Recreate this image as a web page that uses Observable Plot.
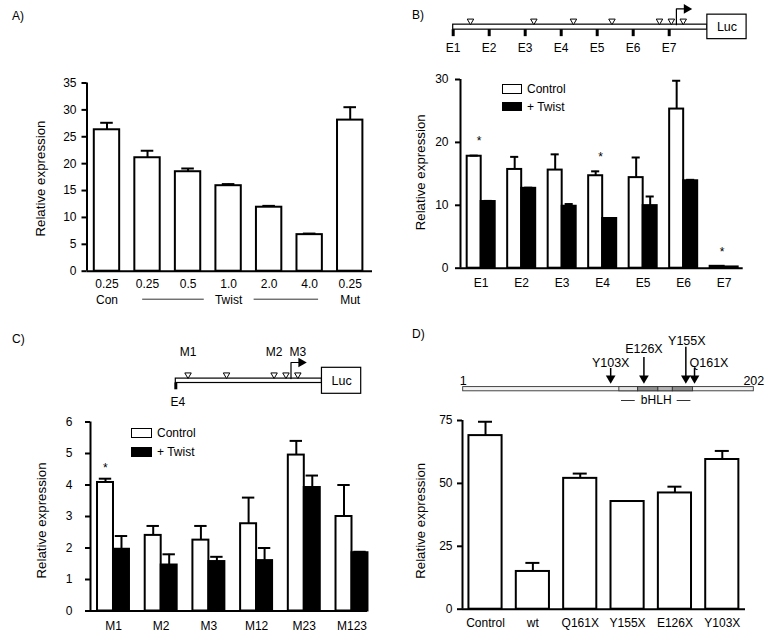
<!DOCTYPE html>
<html><head><meta charset="utf-8">
<script src="https://cdn.jsdelivr.net/npm/d3@7"></script>
<script src="https://cdn.jsdelivr.net/npm/@observablehq/plot@0.6"></script>
<style>
body{margin:0;background:#fff;}
#fig{position:relative;width:774px;height:638px;font-family:"Liberation Sans",Arial,Helvetica,sans-serif;color:#000;overflow:hidden;}
#fig svg{position:absolute;}
.lab{position:absolute;font-size:12px;line-height:12px;white-space:nowrap;}
.box{position:absolute;box-sizing:border-box;border:1.5px solid #000;}
</style></head><body><div id="fig"></div>
<script>
const FONT = '"Liberation Sans", Arial, Helvetica, sans-serif';

// ---------- Panel A data ----------
const aDose = ["0.25", "0.25", "0.5", "1.0", "2.0", "4.0", "0.25"];
const aMean = [26.3, 21.1, 18.5, 15.9, 11.9, 6.8, 28.1];
const aSem  = [1.3, 1.3, 0.6, 0.3, 0.25, 0.2, 2.4];
const aGroups = ["Con", "Twist", "Mut"];
const aGroupFirst = [0, 1, 6];
const aGroupLast  = [0, 5, 6];
const aTicks = [0, 5, 10, 15, 20, 25, 30, 35];

// ---------- Panel B data ----------
const bCats = ["E1", "E2", "E3", "E4", "E5", "E6", "E7"];
const bControl    = [17.8, 15.7, 15.6, 14.7, 14.4, 25.3, 0.3];
const bControlSem = [0.1, 2.0, 2.5, 0.7, 3.2, 4.5, 0.05];
const bTwist      = [10.6, 12.7, 9.85, 7.9, 9.95, 13.9, 0.2];
const bTwistSem   = [0.1, 0.1, 0.35, 0.05, 1.45, 0.15, 0];
const bSig = ["E1", "E4", "E7"];
const bTicks = [0, 10, 20, 30];
const series = ["Control", "+ Twist"];
// promoter map (E sites / E-boxes, arbitrary map units)
const eSitePos = [0, 1, 2, 3, 4, 5, 6];
const eBoxPos  = [0.48, 2.24, 3.34, 4.41, 5.73, 6.06, 6.39];
const tssPos = 6.2, promoterEnd = 7.06, lucEnd = 8.15;

// ---------- Panel C data ----------
const cCats = ["M1", "M2", "M3", "M12", "M23", "M123"];
const cControl    = [4.08, 2.4, 2.25, 2.77, 4.95, 3.0];
const cControlSem = [0.12, 0.3, 0.45, 0.83, 0.45, 1.0];
const cTwist      = [1.96, 1.46, 1.57, 1.6, 3.92, 1.85];
const cTwistSem   = [0.42, 0.34, 0.15, 0.4, 0.38, 0.03];
const cSig = ["M1"];
const cTicks = [0, 1, 2, 3, 4, 5, 6];
const mutBoxNames = ["M1", "M2", "M3"];
const mutBoxPos = [3.34, 5.73, 6.39];

// ---------- Panel D data ----------
const dCats = ["Control", "wt", "Q161X", "Y155X", "E126X", "Y103X"];
const dMean = [69.0, 15.0, 52.0, 42.8, 46.2, 59.5];
const dSem  = [5.5, 3.4, 1.9, 0, 2.5, 3.4];
const dTicks = [0, 25, 50, 75];
const twistLength = 202;
const mutNames = ["Y103X", "E126X", "Y155X", "Q161X"];
const mutResidue = [103, 126, 155, 161];
const domStart = [109, 122, 136, 146];
const domEnd   = [122, 136, 146, 160];
const bhlhRange = [109, 160];

// ---------- layout / style ----------
const fig = document.getElementById("fig");
const baseStyle = {fontFamily: FONT, fontSize: "12px", background: "none", overflow: "visible", color: "black"};
function place(el, left, top) { el.style.left = left + "px"; el.style.top = top + "px"; fig.appendChild(el); }
function label(text, left, cy, size) {
  const d = document.createElement("div"); d.className = "lab"; d.textContent = text;
  d.style.left = left + "px"; d.style.top = (cy - 6) + "px"; if (size) d.style.fontSize = size + "px";
  fig.appendChild(d); return d;
}
function box(left, top, w, h, fill) {
  const d = document.createElement("div"); d.className = "box";
  Object.assign(d.style, {left: left + "px", top: top + "px", width: w + "px", height: h + "px", background: fill});
  fig.appendChild(d);
}
function yAxis(ticks, x0, ymax, pad, title, tdx, tdy) {
  return [
    Plot.axisY({ticks, tickFormat: d => String(d), tickSize: 5, tickPadding: pad, strokeWidth: 2, label: null, fontSize: 12}),
    Plot.ruleX([x0], {y1: 0, y2: ymax, strokeWidth: 2}),
    Plot.ruleY([0], {strokeWidth: 2}),
    Plot.text([title], {frameAnchor: "left", textAnchor: "middle", rotate: -90, dx: tdx, dy: tdy, fontSize: 13.3, lineAnchor: "middle"})
  ];
}
function xAxis(cats, pad) {
  return Plot.axisX({ticks: cats.map((d, i) => i), tickFormat: i => cats[i], tickSize: 0, tickPadding: pad, label: null, fontSize: 12});
}

// ---------- Panel A ----------
{
  const data = aDose.map((d, i) => ({i, v: aMean[i], e: aSem[i]}));
  const hw = 0.313, cap = 0.155;
  const spans = aGroups.map((g, k) => ({g, a: aGroupFirst[k], b: aGroupLast[k], m: (aGroupFirst[k] + aGroupLast[k]) / 2}));
  const wide = spans.filter(s => s.b > s.a);
  const p = Plot.plot({
    width: 380, height: 250, marginLeft: 86.5, marginRight: 8, marginTop: 22.5, marginBottom: 39.3,
    style: baseStyle,
    x: {domain: [-0.493, 6.55]}, y: {domain: [0, 35]},
    marks: [
      Plot.rect(data, {x1: d => d.i - hw, x2: d => d.i + hw, y1: 0, y2: "v", fill: "white", stroke: "black", strokeWidth: 2}),
      Plot.ruleX(data, {x: "i", y1: "v", y2: d => d.v + d.e, strokeWidth: 2}),
      Plot.ruleY(data, {y: d => d.v + d.e, x1: d => d.i - cap, x2: d => d.i + cap, strokeWidth: 2}),
      ...yAxis(aTicks, -0.493, 35, 5.5, "Relative expression", -45.8, 1.5),
      xAxis(aDose, 8),
      Plot.text(spans, {x: "m", y: 0, dy: 28.5, text: "g", fontSize: 12, lineAnchor: "middle"}),
      Plot.ruleY(wide, {y: 0, dy: 28, x1: s => s.a - 0.12, x2: s => s.m - 0.6, strokeWidth: 1, stroke: "#333"}),
      Plot.ruleY(wide, {y: 0, dy: 28, x1: s => s.m + 0.63, x2: s => s.b + 0.22, strokeWidth: 1, stroke: "#333"})
    ]
  });
  place(p, 0, 60);
  label("A)", 12, 16);
}

// grouped-bar helper
function grouped(cats, ctrl, ctrlSem, tw, twSem) {
  return cats.flatMap((c, i) => [
    {i, c, s: series[0], v: ctrl[i], e: ctrlSem[i]},
    {i, c, s: series[1], v: tw[i], e: twSem[i]}
  ]);
}
function groupedMarks(data, w, cap) {
  const cx = d => d.s === series[0] ? d.i - w / 2 : d.i + w / 2;
  const err = data.filter(d => d.e > 0);
  return [
    Plot.rect(data, {x1: d => d.s === series[0] ? d.i - w : d.i, x2: d => d.s === series[0] ? d.i : d.i + w,
      y1: 0, y2: "v", fill: "s", stroke: "black", strokeWidth: 2}),
    Plot.ruleX(err, {x: cx, y1: "v", y2: d => d.v + d.e, strokeWidth: 2}),
    Plot.ruleY(err, {y: d => d.v + d.e, x1: d => cx(d) - cap, x2: d => cx(d) + cap, strokeWidth: 2})
  ];
}
function sigRows(data, sig) {
  return sig.map(c => {
    const rows = data.filter(d => d.c === c);
    return {i: rows[0].i, top: d3.max(rows, d => d.v + d.e)};
  });
}

// ---------- Panel B ----------
{
  const data = grouped(bCats, bControl, bControlSem, bTwist, bTwistSem);
  const p = Plot.plot({
    width: 394, height: 255, marginLeft: 80, marginRight: 31.3, marginTop: 24, marginBottom: 42.3,
    style: baseStyle,
    x: {domain: [-0.511, 6.47]}, y: {domain: [0, 30]},
    color: {domain: series, range: ["white", "black"]},
    marks: [
      ...groupedMarks(data, 0.346, 0.1),
      ...yAxis(bTicks, -0.511, 30, 7, "Relative expression", -40, -1.5),
      xAxis(bCats, 10),
      Plot.text(sigRows(data, bSig), {x: d => d.i - 0.05, y: "top", dy: -14, text: () => "*", fontSize: 12, lineAnchor: "middle"})
    ]
  });
  place(p, 380, 55);
  // promoter map
  const m = Plot.plot({
    width: 394, height: 60, marginLeft: 72.7, marginRight: 26.1, marginTop: 0, marginBottom: 0,
    style: baseStyle,
    x: {domain: [0, 8.2], axis: null}, y: {domain: [-26.65, 33.35], range: [0, 60], axis: null},
    marks: [
      Plot.rect([0], {x1: 0, x2: promoterEnd, y1: -2.5, y2: 2.5, fill: "white", stroke: "black", strokeWidth: 1.2}),
      Plot.rect([0], {x1: promoterEnd, x2: lucEnd, y1: -12.5, y2: 12, fill: "white", stroke: "black", strokeWidth: 1.2}),
      Plot.text(["Luc"], {x: (promoterEnd + lucEnd) / 2, y: -0.5, fontSize: 12.5, lineAnchor: "middle"}),
      Plot.ruleX(eSitePos, {x: d => d, y1: 2.5, y2: 9.5, strokeWidth: 3}),
      Plot.text(bCats, {x: (d, i) => eSitePos[i], y: 21, fontSize: 12, lineAnchor: "middle"}),
      Plot.dot(eBoxPos, {x: d => d, y: -6.2, symbol: "triangle", r: 2.4, rotate: 180, fill: "white", stroke: "black", strokeWidth: 1}),
      Plot.line([[tssPos, -2.5], [tssPos, -18.2], [6.41, -18.2]], {strokeWidth: 1.2}),
      Plot.dot([tssPos], {x: 6.483, y: -18.2, symbol: "triangle", r: 3.6, rotate: 90, fill: "black", stroke: "none"})
    ]
  });
  place(m, 380, 0);
  label("B)", 412, 15);
  box(501.7, 84, 20, 9.5, "white");
  box(501.7, 101.7, 20, 9.5, "black");
  label(series[0], 527, 88.5);
  label(series[1], 527, 106.5);
}

// ---------- Panel C ----------
{
  const data = grouped(cCats, cControl, cControlSem, cTwist, cTwistSem);
  const p = Plot.plot({
    width: 380, height: 233, marginLeft: 90, marginRight: 13, marginTop: 16.5, marginBottom: 27.5,
    style: baseStyle,
    x: {domain: [-0.482, 5.325]}, y: {domain: [0, 6]},
    color: {domain: series, range: ["white", "black"]},
    marks: [
      ...groupedMarks(data, 0.335, 0.13),
      ...yAxis(cTicks, -0.482, 6, 13, "Relative expression", -48.3, 4),
      xAxis(cCats, 10),
      Plot.text(sigRows(data, cSig), {x: d => d.i - 0.17, y: "top", dy: -11, text: () => "*", fontSize: 12, lineAnchor: "middle"})
    ]
  });
  place(p, 0, 405);
  const start = eSitePos[3];
  const m = Plot.plot({
    width: 380, height: 65, marginLeft: 175.3, marginRight: 17.5, marginTop: 0, marginBottom: 0,
    style: baseStyle,
    x: {domain: [start, 8.2], axis: null}, y: {domain: [-40.3, 24.7], range: [0, 65], axis: null},
    marks: [
      Plot.rect([0], {x1: start, x2: promoterEnd, y1: -2.2, y2: 2.2, fill: "white", stroke: "black", strokeWidth: 1.2}),
      Plot.rect([0], {x1: promoterEnd, x2: lucEnd, y1: -13, y2: 13, fill: "white", stroke: "black", strokeWidth: 1.2}),
      Plot.text(["Luc"], {x: (promoterEnd + lucEnd) / 2, y: 0, fontSize: 12.5, lineAnchor: "middle"}),
      Plot.ruleX([start], {x: d => d, y1: 2.2, y2: 9, strokeWidth: 3}),
      Plot.text([bCats[3]], {x: start, y: 21.4, dx: 2, fontSize: 12, lineAnchor: "middle"}),
      Plot.dot(eBoxPos.filter(d => d >= start), {x: d => d, y: -6, symbol: "triangle", r: 2.4, rotate: 180, fill: "white", stroke: "black", strokeWidth: 1}),
      Plot.text(mutBoxNames, {x: (d, i) => mutBoxPos[i], y: -28.6, fontSize: 12, lineAnchor: "middle"}),
      Plot.line([[tssPos, -2.2], [tssPos, -18.3], [6.41, -18.3]], {strokeWidth: 1.2}),
      Plot.dot([tssPos], {x: 6.483, y: -18.3, symbol: "triangle", r: 3.6, rotate: 90, fill: "black", stroke: "none"})
    ]
  });
  place(m, 0, 340);
  label("C)", 12, 339);
  box(131, 428, 21, 10, "white");
  box(131, 447, 21, 10, "black");
  label(series[0], 157, 433);
  label(series[1], 157, 452);
}

// ---------- Panel D ----------
{
  const data = dCats.map((c, i) => ({i, v: dMean[i], e: dSem[i]}));
  const err = data.filter(d => d.e > 0);
  const hw = 0.35, cap = 0.148;
  const p = Plot.plot({
    width: 394, height: 233, marginLeft: 82, marginRight: 29, marginTop: 15, marginBottom: 29.3,
    style: baseStyle,
    x: {domain: [-0.486, 5.49]}, y: {domain: [0, 75]},
    marks: [
      Plot.rect(data, {x1: d => d.i - hw, x2: d => d.i + hw, y1: 0, y2: "v", fill: "white", stroke: "black", strokeWidth: 2}),
      Plot.ruleX(err, {x: "i", y1: "v", y2: d => d.v + d.e, strokeWidth: 2}),
      Plot.ruleY(err, {y: d => d.v + d.e, x1: d => d.i - cap, x2: d => d.i + cap, strokeWidth: 2}),
      ...yAxis(dTicks, -0.486, 75, 5, "Relative expression", -41.3, 6),
      xAxis(dCats, 9)
    ]
  });
  place(p, 380, 405);
  const shades = ["#e2e2e2", "#8e8e8e", "#b6b6b6", "#8e8e8e"];
  const shaftTop = [-20.7, -31.7, -42, -20.7];
  const labY = [-26.7, -40.7, -48.7, -26.7];
  const labAnchor = ["middle", "middle", "middle", "start"];
  const labDx = [0, 0, 1, -5];
  const m = Plot.plot({
    width: 394, height: 78, marginLeft: 82.7, marginRight: 20.7, marginTop: 0, marginBottom: 0,
    style: baseStyle,
    x: {domain: [1, twistLength], axis: null}, y: {domain: [-58.7, 19.3], range: [0, 78], axis: null},
    marks: [
      Plot.rect([0], {x1: 1, x2: twistLength, y1: -2.1, y2: 2.1, fill: "#f1f1f1", stroke: "#333", strokeWidth: 0.9}),
      ...domStart.map((s, k) => Plot.rect([k], {x1: s, x2: domEnd[k], y1: -2.1, y2: 2.1, fill: shades[k], stroke: "#333", strokeWidth: 0.9})),
      Plot.text([1, twistLength], {x: d => d, y: -8.7, text: d => String(d), fontSize: 12.5, lineAnchor: "middle"}),
      Plot.ruleX(mutResidue, {x: d => d, y1: (d, k) => shaftTop[k], y2: -12, strokeWidth: 1.5}),
      Plot.dot(mutResidue, {x: d => d, y: -11, symbol: "triangle", r: 3.6, rotate: 180, fill: "black", stroke: "none"}),
      ...mutNames.map((n, k) => Plot.text([n], {x: mutResidue[k], y: labY[k], dx: labDx[k], textAnchor: labAnchor[k], fontSize: 12.5, lineAnchor: "middle"})),
      Plot.text(["bHLH"], {x: (bhlhRange[0] + bhlhRange[1]) / 2, y: 11.3, fontSize: 12, lineAnchor: "middle"}),
      Plot.ruleY([0], {y: 11.3, x1: bhlhRange[0] + 1.5, x2: bhlhRange[0] + 11, strokeWidth: 1, stroke: "#333"}),
      Plot.ruleY([0], {y: 11.3, x1: bhlhRange[1] - 11, x2: bhlhRange[1] - 1.5, strokeWidth: 1, stroke: "#333"})
    ]
  });
  place(m, 380, 330);
  label("D)", 412, 334);
}
</script></body></html>
